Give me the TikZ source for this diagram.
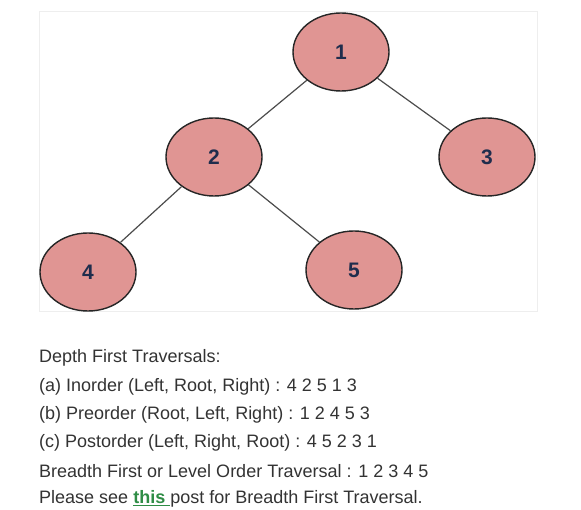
\documentclass[tikz,border=0pt]{standalone}
\usepackage{fontspec}
\setmainfont{Liberation Sans}
\usetikzlibrary{shapes.geometric}
\definecolor{nodefill}{HTML}{E09593}
\definecolor{numcol}{HTML}{1F2D4D}
\definecolor{txtcol}{HTML}{333333}
\definecolor{gfg}{HTML}{2F8D46}
\definecolor{panel}{HTML}{EEEEEE}
\tikzset{
  treenode/.style={ellipse, draw=black!85, line width=1.4pt, fill=nodefill,
    minimum width=96pt, minimum height=78pt, inner sep=0pt,
    font=\fontsize{21}{21}\selectfont\bfseries, text=numcol},
  edge/.style={draw=black!70, line width=1.2pt},
  line/.style={anchor=west, inner sep=0pt, text=txtcol, font=\fontsize{18}{20}\selectfont}
}
\begin{document}
\begin{tikzpicture}[x=1pt,y=-1pt]
\useasboundingbox (0,0) rectangle (581,510);
\fill[white] (0,0) rectangle (581,510);
\draw[panel, line width=1pt] (39,12) rectangle (537,312);
\node[treenode] (n1) at (341,52) {1};
\node[treenode] (n2) at (214,157) {2};
\node[treenode] (n3) at (487,157) {3};
\node[treenode] (n4) at (88,272) {4};
\node[treenode] (n5) at (354,270) {5};
\draw[edge] (n1) -- (n2);
\draw[edge] (n1) -- (n3);
\draw[edge] (n2) -- (n4);
\draw[edge] (n2) -- (n5);
\node[line] (t1) at (39,358) {Depth First Traversals:};
\node[line] (t2) at (39,387) {(a) Inorder (Left, Root, Right) : 4 2 5 1 3};
\node[line] (t3) at (39,415) {(b) Preorder (Root, Left, Right) : 1 2 4 5 3};
\node[line] (t4) at (39,443) {(c) Postorder (Left, Right, Root) : 4 5 2 3 1};
\node[line] (t5) at (39,471) {Breadth First or Level Order Traversal : 1 2 3 4 5};
\node[line] (t6) at (39,499) {Please see {\color{gfg}\bfseries\underline{this }}post for Breadth First Traversal.};
\end{tikzpicture}
\end{document}
